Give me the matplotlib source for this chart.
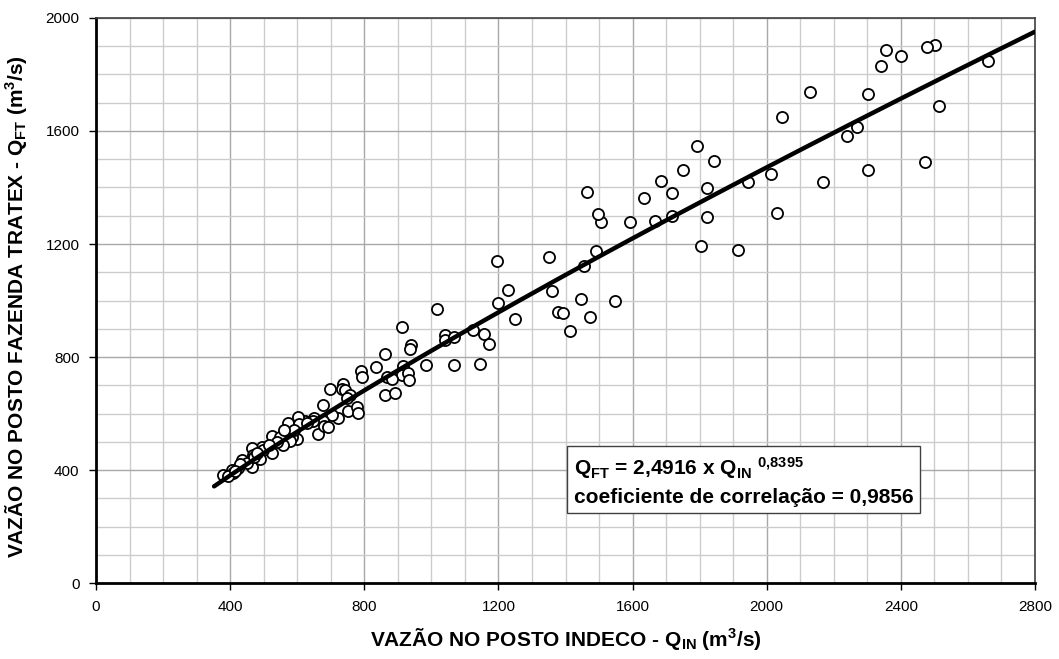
import numpy as np
import matplotlib
matplotlib.use("Agg")
import matplotlib.pyplot as plt
from matplotlib.ticker import MultipleLocator

plt.rcParams['font.family'] = ['Liberation Sans', 'DejaVu Sans']
plt.rcParams['mathtext.fontset'] = 'custom'
plt.rcParams['mathtext.rm'] = 'Liberation Sans:bold'
plt.rcParams['mathtext.it'] = 'Liberation Sans:bold'
plt.rcParams['mathtext.bf'] = 'Liberation Sans:bold'
plt.rcParams['mathtext.default'] = 'regular'

# vazoes observadas (m3/s)
q_in = [2660, 2503, 2477, 2401, 2355, 2340, 2302, 2515, 2268, 2240,
        2129, 2045, 2169, 2303, 2471, 2030, 2014, 1944, 1913, 1804,
        1822, 1823, 1844, 1791, 1751, 1685, 1719, 1717, 1666, 1634,
        1592, 1505, 1498, 1463, 1490, 1456, 1351, 1361, 1446, 1547,
        1378, 1392, 1472, 1412, 1250, 1197, 1229, 1198, 1017, 1040,
        1040, 1067, 1124, 1158, 1173, 984, 1068, 1145, 913, 938,
        937, 862, 914, 913, 930, 933, 867, 882, 862, 893,
        835, 790, 794, 697, 737, 733, 742, 757, 747, 752,
        779, 782, 678, 721, 705, 650, 623, 663, 676, 681,
        692, 602, 573, 606, 648, 600, 524, 549, 583, 577,
        557, 524, 494, 499, 464, 469, 434, 464, 489, 449,
        405, 409, 380, 394, 424, 628, 540, 515, 590, 470,
        480, 430, 415, 560]
q_ft = [1848, 1904, 1899, 1867, 1888, 1830, 1732, 1687, 1613, 1584,
        1739, 1648, 1421, 1461, 1490, 1311, 1448, 1418, 1177, 1192,
        1398, 1295, 1494, 1548, 1462, 1422, 1379, 1300, 1281, 1363,
        1279, 1278, 1305, 1385, 1176, 1122, 1155, 1035, 1004, 997,
        960, 957, 943, 893, 935, 1141, 1036, 991, 969, 879,
        859, 872, 896, 881, 845, 772, 771, 774, 905, 843,
        830, 811, 768, 735, 742, 717, 731, 722, 665, 673,
        764, 749, 730, 686, 704, 687, 684, 665, 656, 608,
        623, 603, 630, 585, 596, 583, 573, 527, 573, 557,
        552, 587, 565, 563, 575, 509, 520, 518, 518, 502,
        488, 459, 482, 471, 477, 453, 435, 410, 438, 424,
        400, 388, 382, 379, 406, 567, 498, 490, 540, 445,
        460, 420, 395, 540]

# ajuste potencial Q_FT = a * Q_IN ^ b
a_coef = 2.4916
b_coef = 0.8395
x_fit_min, x_fit_max = 352, 2800

fig = plt.figure(figsize=(10.59, 6.59), dpi=100)
ax = fig.add_axes([0.0907, 0.1153, 0.8866, 0.8574])

ax.set_xlim(0, 2800)
ax.set_ylim(0, 2000)
ax.xaxis.set_major_locator(MultipleLocator(400))
ax.yaxis.set_major_locator(MultipleLocator(400))
ax.xaxis.set_minor_locator(MultipleLocator(100))
ax.yaxis.set_minor_locator(MultipleLocator(100))
ax.grid(which='minor', color='#cccccc', linewidth=1.0)
ax.grid(which='major', color='#a8a8a8', linewidth=1.0)
ax.set_axisbelow(True)

ax.tick_params(which='major', direction='out', length=5, width=1, labelsize=11, pad=7)
ax.tick_params(which='minor', length=0)

for s in ['left', 'bottom']:
    ax.spines[s].set_linewidth(2)
    ax.spines[s].set_color('black')
for s in ['top', 'right']:
    ax.spines[s].set_linewidth(1.2)
    ax.spines[s].set_color('#404040')

ax.scatter(q_in, q_ft, s=64, facecolors='white', edgecolors='black', linewidths=1.3, zorder=3)

xf = np.linspace(x_fit_min, x_fit_max, 200)
ax.plot(xf, a_coef * xf ** b_coef, color='black', linewidth=3.2, zorder=4, solid_capstyle='round')

ax.set_xlabel('VAZÃO NO POSTO INDECO - Q$_{IN}$ (m$^3$/s)', fontsize=15, fontweight='bold', labelpad=9)
ax.set_ylabel('VAZÃO NO POSTO FAZENDA TRATEX - Q$_{FT}$ (m$^3$/s)', fontsize=15, fontweight='bold', labelpad=10)
ax.yaxis.set_label_coords(-0.071, 0.49)

txt = 'Q$_{FT}$ = 2,4916 x Q$_{IN}\\ ^{0{,}8395}$\ncoeficiente de correlação = 0,9856'
ax.text(0.509, 0.181, txt, transform=ax.transAxes, ha='left', va='center',
        fontsize=15, fontweight='bold', linespacing=1.45, zorder=5,
        bbox=dict(boxstyle='square,pad=0.32', facecolor='white', edgecolor='#404040', linewidth=1))

fig.savefig('out.png', dpi=100)
